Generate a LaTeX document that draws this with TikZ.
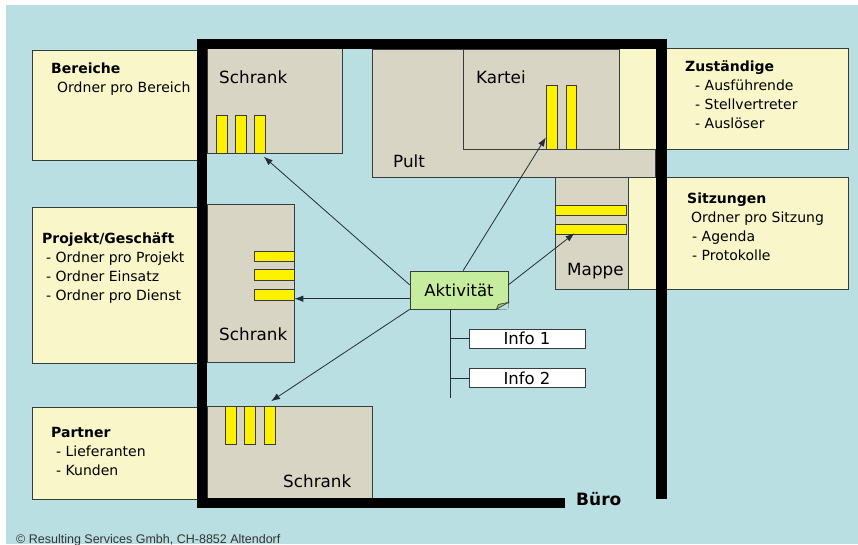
\documentclass[tikz,border=0pt]{standalone}
\usepackage{fontspec}
\setmainfont{DejaVu Sans}
\newfontfamily\notefont{Liberation Sans}
\usepackage{tikz}
\usetikzlibrary{arrows.meta,positioning}
\definecolor{bgblue}{RGB}{185,223,227}
\definecolor{paleyellow}{RGB}{249,247,201}
\definecolor{cabinet}{RGB}{217,213,197}
\definecolor{actgreen}{RGB}{198,236,158}
\definecolor{foldgreen}{RGB}{150,190,110}
\definecolor{edge}{RGB}{55,60,60}
\definecolor{wire}{RGB}{35,45,55}

\begin{document}
\begin{tikzpicture}[x=1pt, y=-1pt,
  area/.style={rectangle, draw=edge, line width=0.8pt, fill=paleyellow, inner sep=0pt},
  cabinetbox/.style={rectangle, draw=edge, line width=0.8pt, fill=cabinet, inner sep=0pt},
  folder/.style={rectangle, draw=edge, line width=0.7pt, fill=yellow, inner sep=0pt},
  upright/.style={folder, minimum width=10.5pt, minimum height=38pt},
  flat/.style={folder, minimum height=10.5pt},
  txt/.style={align=left, inner sep=0pt, anchor=base west,
              font=\fontsize{14}{19}\selectfont},
  lab/.style={inner sep=0pt, anchor=base west, font=\fontsize{16.8}{20}\selectfont},
  info/.style={rectangle, draw=edge, line width=0.8pt, fill=white,
               minimum width=116pt, minimum height=19pt, inner sep=0pt,
               font=\fontsize{16.5}{20}\selectfont},
  wall/.style={line width=10.5pt, black},
  ln/.style={draw=wire, line width=0.8pt},
  arr/.style={ln, -{Latex[length=9pt,width=6.5pt]}},
  node distance=20pt
]
\useasboundingbox (0,0) rectangle (858,544);
\fill[bgblue] (6,5) rectangle (858,544);

% furniture and areas
\node[cabinetbox, minimum width=283pt, minimum height=128pt] (pult) at (513.5,113) {};
\node[area, minimum width=173pt, minimum height=110pt] (bereiche) at (118.5,105) {};
\node[area, minimum width=173pt, minimum height=156pt] (projekt) at (118.5,285) {};
\node[area, minimum width=173pt, minimum height=92pt] (partner) at (118.5,453) {};
\node[area, minimum width=238pt, minimum height=101pt] (zust) at (729,98.5) {};
\node[area, minimum width=228pt, minimum height=112pt] (sitz) at (734,233) {};
\node[cabinetbox, minimum width=135pt, minimum height=105pt] (s1) at (274.5,100.5) {};
\node[cabinetbox, minimum width=87pt, minimum height=158pt] (s2) at (250.5,283) {};
\node[cabinetbox, minimum width=165pt, minimum height=92pt] (s3) at (289.5,452) {};
\node[cabinetbox, minimum width=156pt, minimum height=100pt] (kartei) at (541,99) {};
\node[cabinetbox, minimum width=73pt, minimum height=112pt] (mappe) at (591.5,233) {};

\draw[wall] (565,503) -- (202,503) -- (202,44) -- (661.5,44) -- (661.5,499);

% folders
\foreach \x/\n in {222/1,241/2,260/3}
  \node[upright] (s1b\n) at (\x,134) {};
\foreach \x/\n in {552/1,571.5/2}
  \node[upright, minimum height=64pt] (k\n) at (\x,117) {};
\foreach \y/\n in {210.5/1,229.5/2}
  \node[flat, minimum width=71pt] (m\n) at (590.5,\y) {};
\foreach \y/\n in {256.5/1,275/2,295/3}
  \node[flat, minimum width=40pt] (s2b\n) at (274,\y) {};
\foreach \x/\n in {231/1,250/2,270/3}
  \node[upright] (s3b\n) at (\x,425) {};

% activity
\node[rectangle, draw=edge, line width=0.8pt, fill=actgreen, minimum width=98pt,
      minimum height=38pt, inner sep=0pt, font=\fontsize{16.5}{20}\selectfont]
      (akt) at (459,290) {Aktivität};
\fill[bgblue] ([xshift=0.4pt,yshift=-0.4pt]akt.south east) -- ([xshift=-12pt]akt.south east)
  -- ([yshift=7pt]akt.south east) -- cycle;
\filldraw[fill=foldgreen, draw=edge, line width=0.6pt] ([xshift=-12pt]akt.south east)
  -- ([yshift=7pt]akt.south east) -- ([xshift=-10pt,yshift=5pt]akt.south east) -- cycle;

\node[info] (info1) at (527,338.5) {Info 1};
\node[info, below=of info1] (info2) {Info 2};
\coordinate (stem) at (450,398);

\draw[ln] (akt.south -| stem) -- (stem);
\draw[ln] (info1.west -| stem) -- (info1.west);
\draw[ln] (info2.west -| stem) -- (info2.west);
\draw[arr, shorten >=5pt] (akt.174) -- (s1b3.south);
\draw[arr, shorten >=1pt] (akt.78) -- (k1.254);
\draw[arr, shorten >=-3pt] (akt.6) -- (m2.197);
\draw[arr] (akt.190) -- (akt.190 -| s2b3.east);
\draw[arr, shorten >=8pt] (akt.south west) -- (s3b3.north west);

% labels
\node[lab] (s1lab) at (219,83) {Schrank};
\node[lab] (s2lab) at (219,340) {Schrank};
\node[lab] (s3lab) at (283,487) {Schrank};
\node[lab] (karteilab) at (476,83) {Kartei};
\node[lab] (pultlab) at (393,167) {Pult};
\node[lab] (mappelab) at (567,275) {Mappe};

% base of a text block = baseline of its last line
\node[txt] (bereicheT) at (51,92) {\textbf{Bereiche}\\\hspace*{6pt}Ordner pro Bereich};
\node[txt] (zustT) at (685,128) {\textbf{Zuständige}\\\hspace*{10pt}- Ausführende\\
  \hspace*{10pt}- Stellvertreter\\\hspace*{10pt}- Auslöser};
\node[txt] (sitzT) at (687,260) {\textbf{Sitzungen}\\\hspace*{4pt}Ordner pro Sitzung\\
  \hspace*{5pt}- Agenda\\\hspace*{5pt}- Protokolle};
\node[txt] (projT) at (42,300) {\textbf{Projekt/Geschäft}\\\hspace*{4pt}- Ordner pro Projekt\\
  \hspace*{4pt}- Ordner Einsatz\\\hspace*{4pt}- Ordner pro Dienst};
\node[txt] (partT) at (51,475) {\textbf{Partner}\\\hspace*{5pt}- Lieferanten\\\hspace*{5pt}- Kunden};

\node[inner sep=0pt, anchor=base west, font=\bfseries\fontsize{17}{20}\selectfont]
  (buero) at (576,505) {Büro};
\node[inner sep=0pt, anchor=base west, text=black!80,
      font=\notefont\fontsize{12.5}{14}\selectfont]
  (credit) at (16,543) {© Resulting Services Gmbh, CH-8852 Altendorf};
\end{tikzpicture}
\end{document}
